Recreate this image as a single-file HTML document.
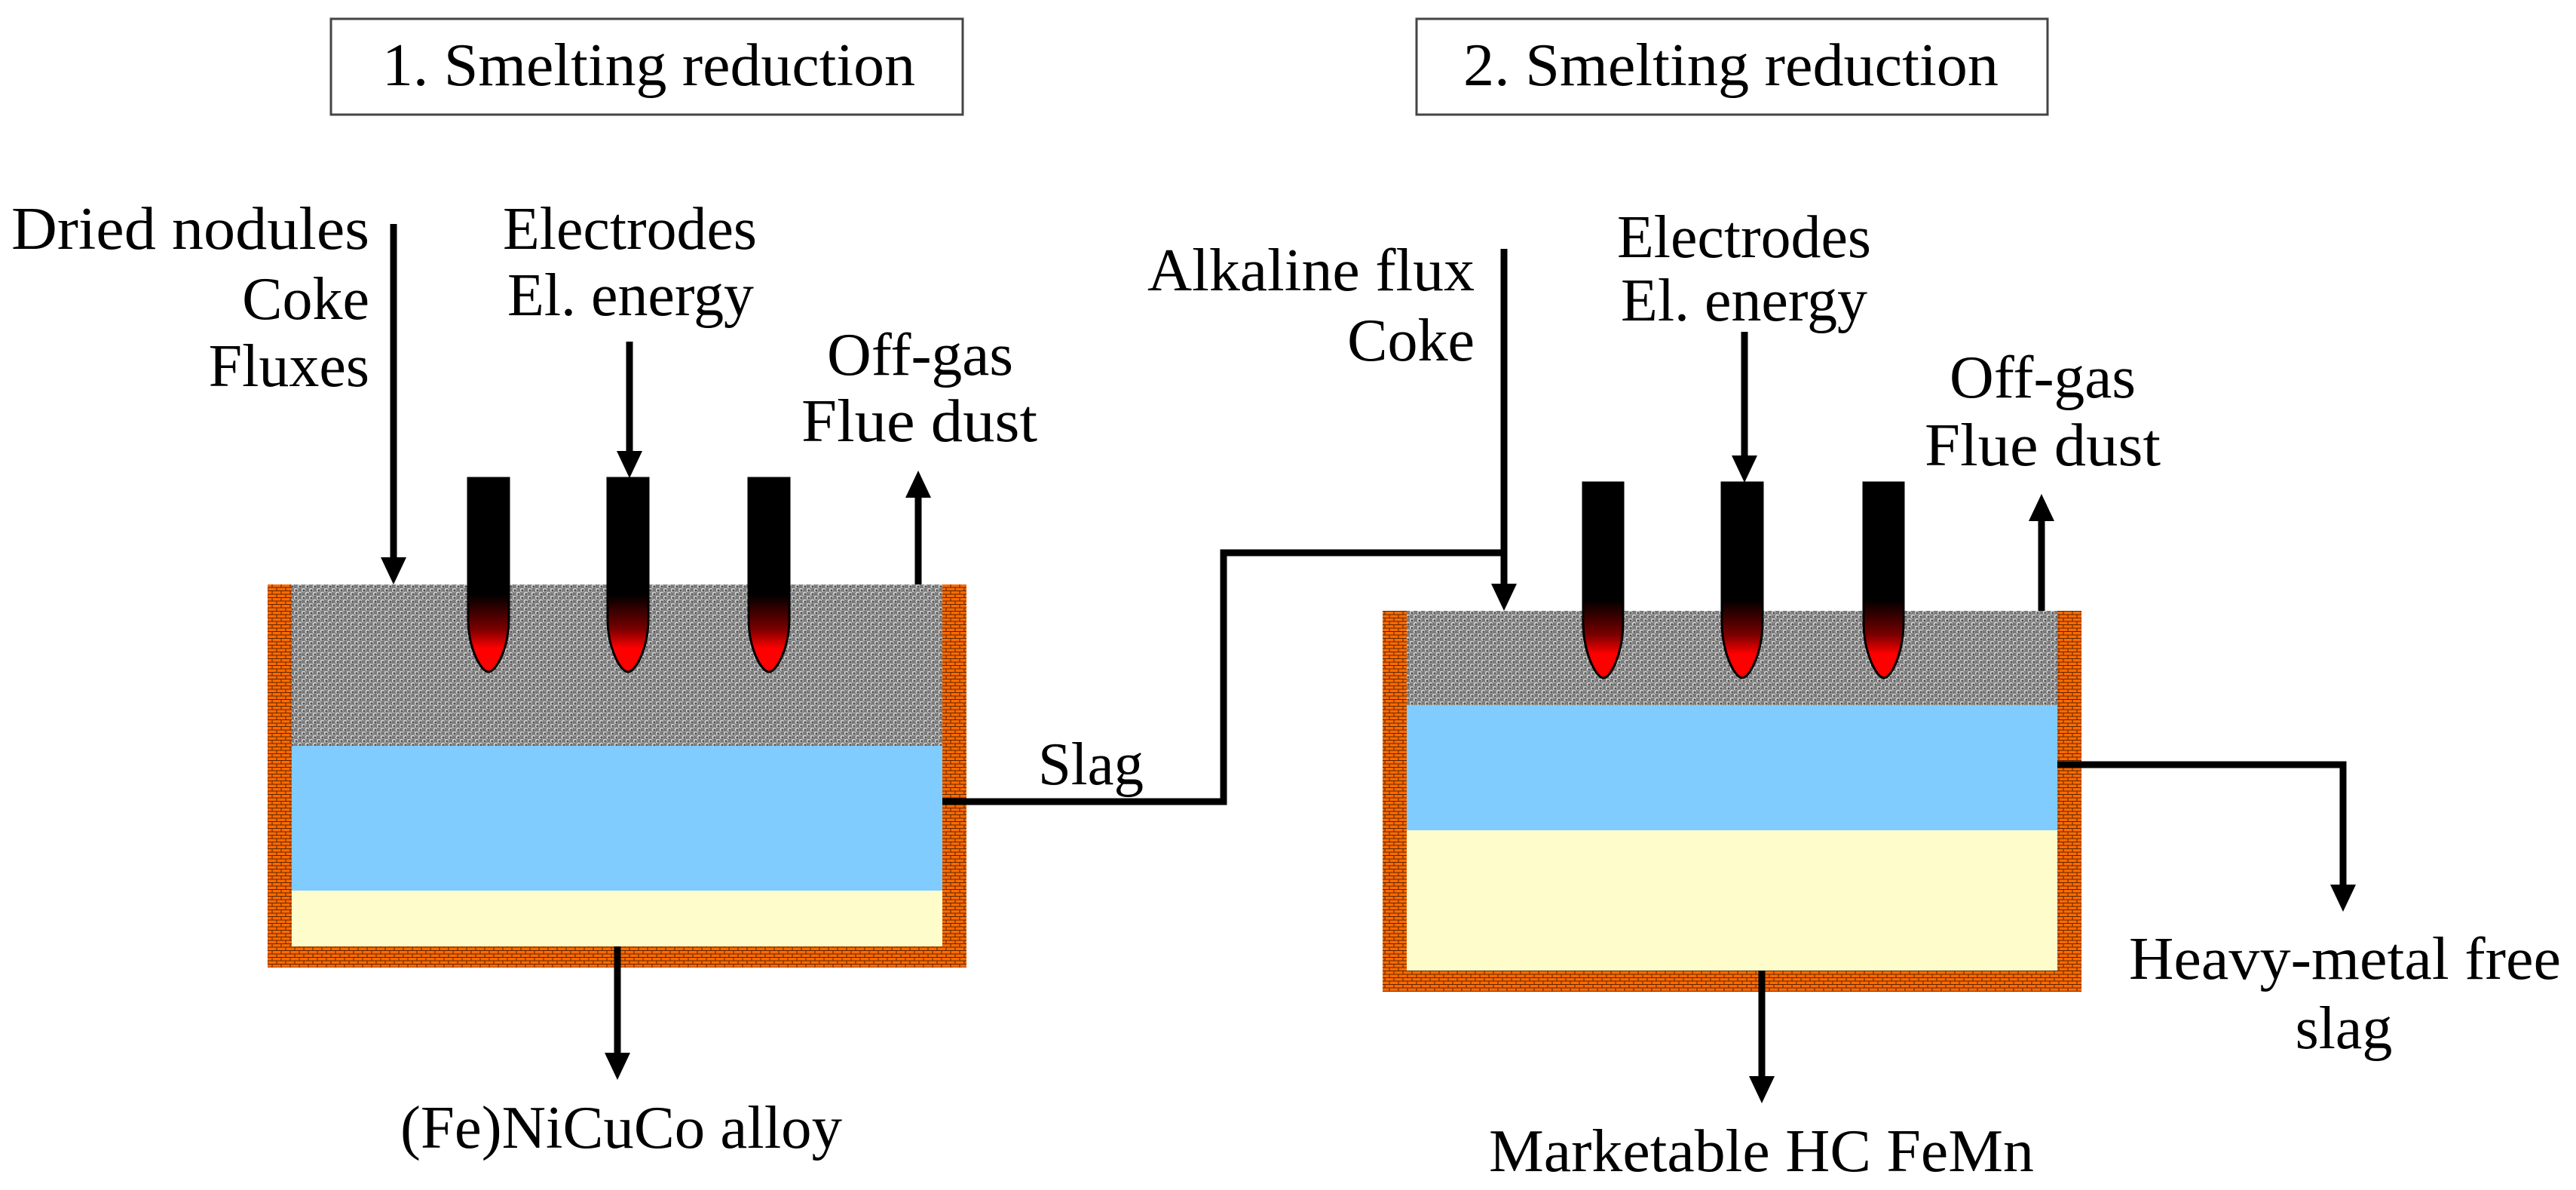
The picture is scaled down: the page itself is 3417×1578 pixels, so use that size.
<!DOCTYPE html>
<html><head><meta charset="utf-8"><style>
html,body{margin:0;padding:0;background:#fff;}
svg{display:block;}
text{font-family:"Liberation Serif",serif;font-size:80px;fill:#000;}
</style></head><body>
<svg width="3417" height="1578" viewBox="0 0 3417 1578" xmlns="http://www.w3.org/2000/svg">
<defs>
<pattern id="chg" width="10" height="10" patternUnits="userSpaceOnUse">
<rect width="10" height="10" fill="#7a7a7a"/>
<circle cx="2.5" cy="2.5" r="3" fill="#d0d0d0"/>
<circle cx="7.5" cy="7.5" r="3" fill="#d0d0d0"/>
<circle cx="3" cy="3" r="1.6" fill="#555"/>
<circle cx="8" cy="8" r="1.6" fill="#555"/>
</pattern>
<pattern id="brick" width="12" height="9" patternUnits="userSpaceOnUse">
<rect width="12" height="9" fill="#ff6a00"/>
<path d="M0 0.5H12M0 5H12M1 0V4.5M7 4.5V9" stroke="#5a2500" stroke-width="1" fill="none"/>
</pattern>
<linearGradient id="hot" x1="0" y1="0" x2="0" y2="1">
<stop offset="0" stop-color="#000"/>
<stop offset="0.6" stop-color="#000"/>
<stop offset="0.78" stop-color="#7a0000"/>
<stop offset="0.88" stop-color="#ff0000"/>
<stop offset="1" stop-color="#ff0000"/>
</linearGradient>
</defs>

<rect x="439" y="25" width="838" height="127" fill="#fff" stroke="#444" stroke-width="3"/>
<text x="507" y="113" textLength="707" lengthAdjust="spacingAndGlyphs">1. Smelting reduction</text>
<rect x="1879" y="25" width="837" height="127" fill="#fff" stroke="#444" stroke-width="3"/>
<text x="1941" y="113" textLength="710" lengthAdjust="spacingAndGlyphs">2. Smelting reduction</text>

<rect x="355" y="775" width="927" height="508" fill="url(#brick)"/>
<rect x="387" y="775" width="863" height="214" fill="url(#chg)"/>
<rect x="387" y="989" width="863" height="192" fill="#80ccff"/>
<rect x="387" y="1181" width="863" height="74" fill="#fffccc"/>

<rect x="1834" y="810" width="927" height="505" fill="url(#brick)"/>
<rect x="1866" y="810" width="863" height="125" fill="url(#chg)"/>
<rect x="1866" y="935" width="863" height="166" fill="#80ccff"/>
<rect x="1866" y="1101" width="863" height="186" fill="#fffccc"/>

<g stroke="#000" stroke-width="3" fill="url(#hot)">
<path d="M621,634 H675 V820 C675,860 658,891 648,891 C638,891 621,860 621,820 Z"/>
<path d="M806,634 H860 V820 C860,860 843,891 833,891 C823,891 806,860 806,820 Z"/>
<path d="M993,634 H1047 V820 C1047,860 1030,891 1020,891 C1010,891 993,860 993,820 Z"/>
<path d="M2100,640 H2153 V825 C2153,865 2137,899 2127,899 C2117,899 2100,865 2100,825 Z"/>
<path d="M2284,640 H2338 V825 C2338,865 2321,899 2311,899 C2301,899 2284,865 2284,825 Z"/>
<path d="M2472,640 H2525 V825 C2525,865 2509,899 2499,899 C2489,899 2472,865 2472,825 Z"/>
</g>

<g stroke="#000" stroke-width="9" fill="none">
<line x1="522" y1="297" x2="522" y2="745"/>
<line x1="835" y1="453" x2="835" y2="605"/>
<line x1="1218" y1="775" x2="1218" y2="655"/>
<line x1="819" y1="1255" x2="819" y2="1402"/>
<polyline points="1250,1063 1623,1063 1623,733 1995,733"/>
<line x1="1995" y1="330" x2="1995" y2="780"/>
<line x1="2314" y1="440" x2="2314" y2="610"/>
<line x1="2708" y1="810" x2="2708" y2="685"/>
<line x1="2337" y1="1287" x2="2337" y2="1434"/>
<polyline points="2729,1014 3108,1014 3108,1180"/>
</g>
<g fill="#000">
<polygon points="505,739 539,739 522,775"/>
<polygon points="818,598 852,598 835,634"/>
<polygon points="1201,660 1235,660 1218,624"/>
<polygon points="802,1396 836,1396 819,1432"/>
<polygon points="1978,774 2012,774 1995,810"/>
<polygon points="2297,604 2331,604 2314,640"/>
<polygon points="2691,691 2725,691 2708,655"/>
<polygon points="2320,1427 2354,1427 2337,1463"/>
<polygon points="3091,1173 3125,1173 3108,1209"/>
</g>

<text x="15" y="330" textLength="475" lengthAdjust="spacingAndGlyphs">Dried nodules</text>
<text x="490" y="423" text-anchor="end">Coke</text>
<text x="490" y="512" text-anchor="end">Fluxes</text>
<text x="667" y="330" textLength="337" lengthAdjust="spacingAndGlyphs">Electrodes</text>
<text x="673" y="418" textLength="327" lengthAdjust="spacingAndGlyphs">El. energy</text>
<text x="1097" y="497" textLength="247" lengthAdjust="spacingAndGlyphs">Off-gas</text>
<text x="1063" y="585" textLength="313" lengthAdjust="spacingAndGlyphs">Flue dust</text>
<text x="1522" y="385" textLength="434" lengthAdjust="spacingAndGlyphs">Alkaline flux</text>
<text x="1956" y="478" text-anchor="end">Coke</text>
<text x="2145" y="341" textLength="337" lengthAdjust="spacingAndGlyphs">Electrodes</text>
<text x="2150" y="425" textLength="327" lengthAdjust="spacingAndGlyphs">El. energy</text>
<text x="2586" y="527" textLength="247" lengthAdjust="spacingAndGlyphs">Off-gas</text>
<text x="2553" y="617" textLength="313" lengthAdjust="spacingAndGlyphs">Flue dust</text>
<text x="1377" y="1040" textLength="140" lengthAdjust="spacingAndGlyphs">Slag</text>
<text x="531" y="1522" textLength="586" lengthAdjust="spacingAndGlyphs">(Fe)NiCuCo alloy</text>
<text x="1975" y="1553" textLength="723" lengthAdjust="spacingAndGlyphs">Marketable HC FeMn</text>
<text x="2824" y="1298" textLength="573" lengthAdjust="spacingAndGlyphs">Heavy-metal free</text>
<text x="3109" y="1390" text-anchor="middle">slag</text>
</svg>
</body></html>
